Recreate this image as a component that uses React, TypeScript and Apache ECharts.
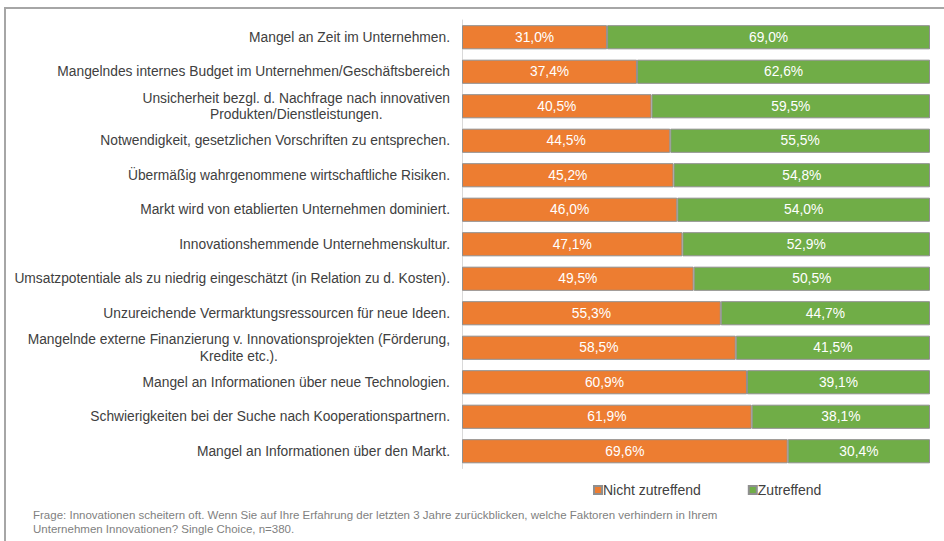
import React, { useEffect, useRef } from "react";
import * as echarts from "echarts";

const categories = [
  "Mangel an Zeit im Unternehmen.",
  "Mangelndes internes Budget im Unternehmen/Geschäftsbereich",
  "Unsicherheit bezgl. d. Nachfrage nach innovativen\nProdukten/Dienstleistungen.",
  "Notwendigkeit, gesetzlichen Vorschriften zu entsprechen.",
  "Übermäßig wahrgenommene wirtschaftliche Risiken.",
  "Markt wird von etablierten Unternehmen dominiert.",
  "Innovationshemmende Unternehmenskultur.",
  "Umsatzpotentiale als zu niedrig eingeschätzt (in Relation zu d. Kosten).",
  "Unzureichende Vermarktungsressourcen für neue Ideen.",
  "Mangelnde externe Finanzierung v. Innovationsprojekten (Förderung,\nKredite etc.).",
  "Mangel an Informationen über neue Technologien.",
  "Schwierigkeiten bei der Suche nach Kooperationspartnern.",
  "Mangel an Informationen über den Markt.",
];

const nichtZutreffend = [31.0, 37.4, 40.5, 44.5, 45.2, 46.0, 47.1, 49.5, 55.3, 58.5, 60.9, 61.9, 69.6];
const zutreffend = [69.0, 62.6, 59.5, 55.5, 54.8, 54.0, 52.9, 50.5, 44.7, 41.5, 39.1, 38.1, 30.4];

const seriesNames = ["Nicht zutreffend", "Zutreffend"];
const footnote =
  "Frage: Innovationen scheitern oft. Wenn Sie auf Ihre Erfahrung der letzten 3 Jahre zurückblicken, welche Faktoren verhindern in Ihrem\nUnternehmen Innovationen? Single Choice, n=380.";

const FONT = "'Liberation Sans', Arial, sans-serif";

export default function App() {
  const ref = useRef<HTMLDivElement>(null);
  useEffect(() => {
    if (!ref.current) return;
    const chart = echarts.init(ref.current, null, { renderer: "svg" });
    const fmt = (p: any) => (p.value as number).toFixed(1).replace(".", ",") + "%";
    chart.setOption({
      animation: false,
      textStyle: { fontFamily: FONT },
      grid: { left: 462, right: 14, top: 20, height: 448.5, containLabel: false },
      xAxis: { type: "value", min: 0, max: 100, show: false },
      yAxis: {
        type: "category",
        data: categories,
        inverse: true,
        axisLine: { show: true, lineStyle: { color: "#d9d9d9", width: 1 } },
        axisTick: { show: false },
        axisLabel: {
          margin: 12,
          formatter: (v: string) => v.split("\n").map((l) => `{c|${l}}`).join("\n"),
          rich: {
            c: { align: "center", fontSize: 13.8, color: "#404040", lineHeight: 16.5, fontFamily: FONT },
          },
        },
      },
      legend: {
        left: 588,
        top: 478,
        itemWidth: 8,
        itemHeight: 8,
        itemGap: 47,
        icon: "rect",
        textStyle: { fontSize: 14, color: "#404040", padding: [0, 0, 0, -4] },
        data: seriesNames,
      },
      series: [
        {
          name: seriesNames[0],
          type: "bar",
          stack: "total",
          data: nichtZutreffend,
          barCategoryGap: "30%",
          itemStyle: { color: "#ED7D31", borderColor: "#8f8f8f", borderWidth: 1 },
          label: { show: true, position: "inside", color: "#fff", fontSize: 13.8, formatter: fmt },
        },
        {
          name: seriesNames[1],
          type: "bar",
          stack: "total",
          data: zutreffend,
          barCategoryGap: "30%",
          itemStyle: { color: "#70AD47", borderColor: "#8f8f8f", borderWidth: 1 },
          label: { show: true, position: "inside", color: "#fff", fontSize: 13.8, formatter: fmt },
        },
      ],
      graphic: [
        {
          type: "rect",
          shape: { x: 5, y: 8, width: 1000, height: 1000 },
          style: { fill: "none", stroke: "#a6a6a6", lineWidth: 2 },
          silent: true,
        },
        {
          type: "text",
          left: 33,
          top: 507.5,
          style: {
            text: footnote,
            fontSize: 11.5,
            lineHeight: 14,
            fill: "#7f7f7f",
            fontFamily: FONT,
          },
        },
      ],
    });
    return () => chart.dispose();
  }, []);
  return (
    <div
      ref={ref}
      style={{ position: "fixed", left: 0, top: 0, width: 944, height: 541, background: "#fff" }}
    />
  );
}
